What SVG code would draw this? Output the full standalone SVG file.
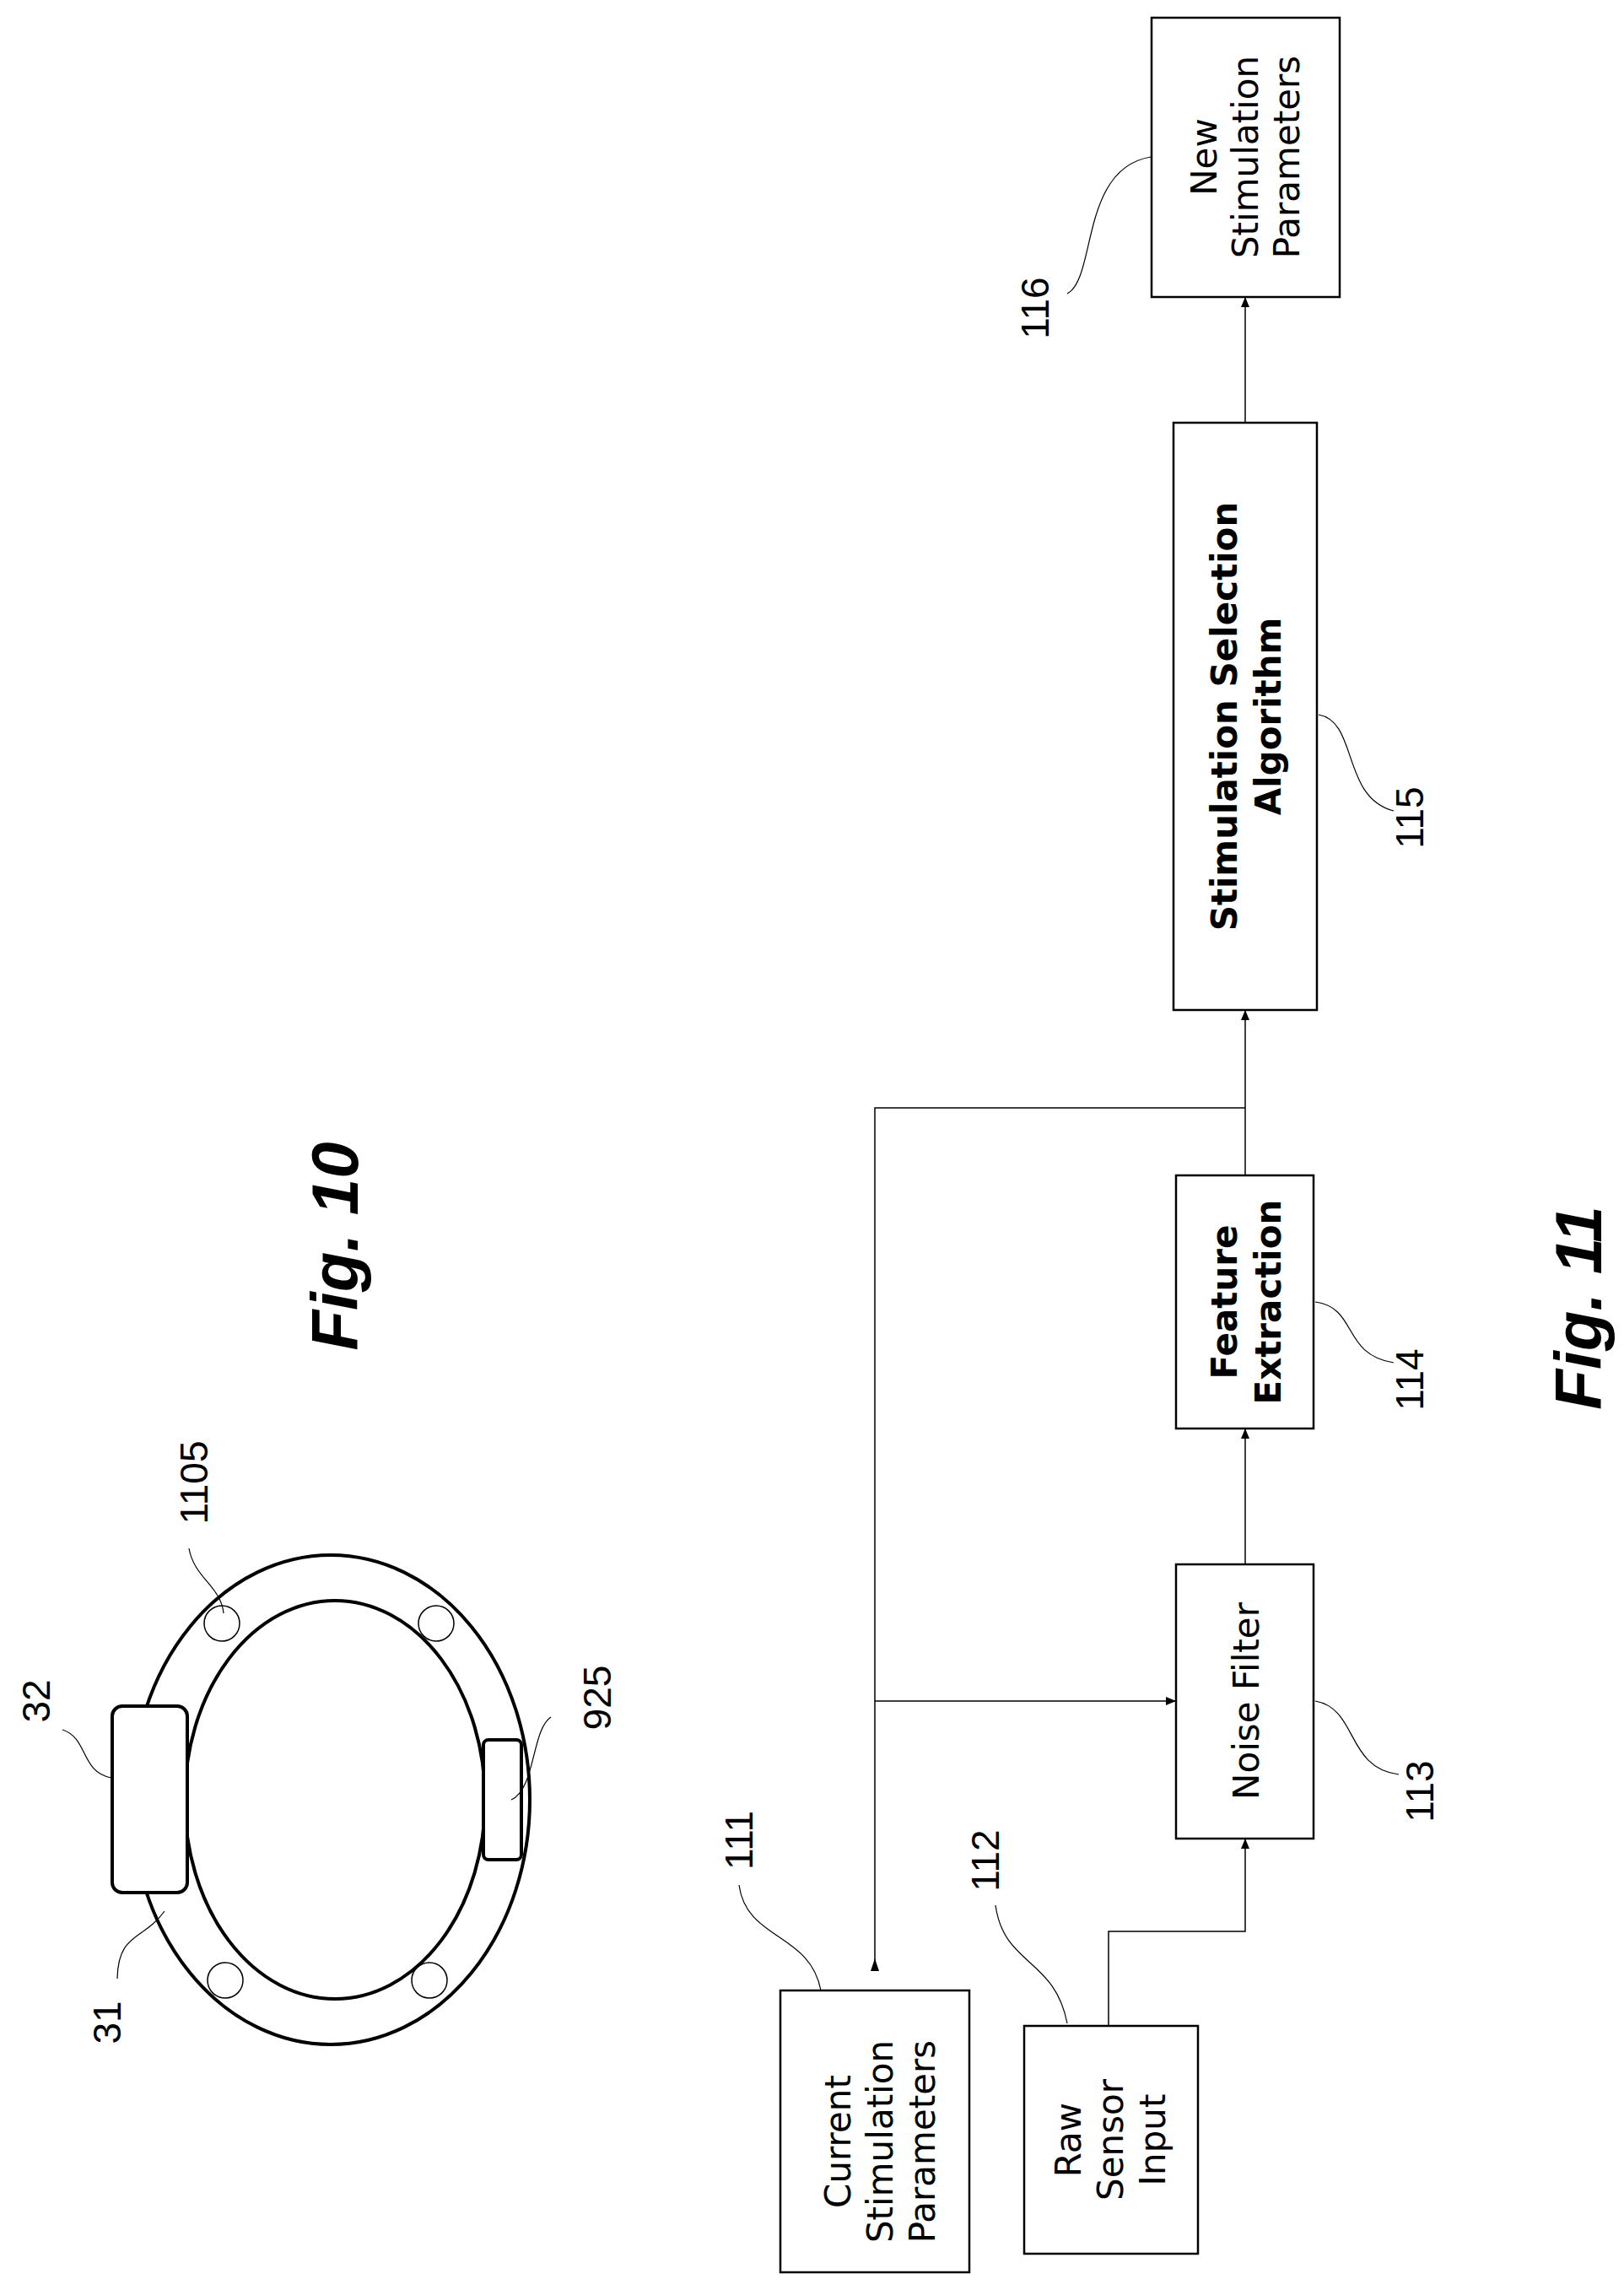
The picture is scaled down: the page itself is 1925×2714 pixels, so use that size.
<svg xmlns="http://www.w3.org/2000/svg" width="1925" height="2714" viewBox="0 0 1925 2714">
<style>
.box{fill:#fff;stroke:#000;stroke-width:2.5}
.dev{fill:#fff;stroke:#000;stroke-width:4}
.ln{fill:none;stroke:#000;stroke-width:1.5}
.ld{fill:none;stroke:#000;stroke-width:1.2}
.t{font-family:"DejaVu Sans",sans-serif;font-size:42px;text-anchor:middle}
.b{font-weight:bold}
.n{font-family:"Liberation Sans",Arial,sans-serif;font-size:46px;text-anchor:middle}
.fig{font-family:"Liberation Sans",Arial,sans-serif;font-size:78px;font-weight:bold;font-style:italic;text-anchor:middle}
</style>
<defs>
<marker id="ah" markerWidth="12" markerHeight="10" refX="12" refY="5" orient="auto" markerUnits="userSpaceOnUse"><path d="M0,0 L12,5 L0,10 Z" fill="#000"/></marker>
</defs>
<rect width="1925" height="2714" fill="#fff"/>

<g id="fig10">
<ellipse class="dev" cx="392" cy="2133" rx="236" ry="290"/>
<ellipse class="dev" cx="397" cy="2133" rx="178" ry="236"/>
<circle class="ln" cx="263" cy="1924" r="21"/>
<circle class="ln" cx="517" cy="1924" r="21"/>
<circle class="ln" cx="267" cy="2347" r="21"/>
<circle class="ln" cx="509" cy="2347" r="21"/>
<rect id="n32" class="dev" x="133" y="2022" width="89" height="221" rx="12"/>
<rect id="n925" class="dev" x="573" y="2062" width="45" height="142" rx="6"/>
<path class="ld" d="M74,2050 C105,2060 95,2100 132,2107"/>
<path class="ld" d="M139,2345 C140,2290 170,2300 195,2265"/>
<path class="ld" d="M653,2035 C630,2050 635,2120 606,2133"/>
<path class="ld" d="M224,1835 C230,1870 262,1880 265,1912"/>
<text class="n" transform="translate(59,2016) rotate(-90)">32</text>
<text class="n" transform="translate(143,2397) rotate(-90)">31</text>
<text class="n" transform="translate(724,2012) rotate(-90)">925</text>
<text class="n" transform="translate(246,1757) rotate(-90)">1105</text>
<text class="fig" transform="translate(424,1477) rotate(-90)">Fig. 10</text>
</g>

<g id="connectors">
<path class="ln" d="M1476,501 V352" marker-end="url(#ah)"/>
<path class="ln" d="M1476,1393 V1197" marker-end="url(#ah)"/>
<path class="ln" d="M1476,1854 V1693" marker-end="url(#ah)"/>
<path class="ln" d="M1037,2335 V1313 H1476"/>
<path d="M1037,2321 L1032,2336 L1042,2336 Z" fill="#000"/>
<path class="ln" d="M1037,2016 H1394" marker-end="url(#ah)"/>
<path class="ln" d="M1314,2401 V2289 H1476 V2179" marker-end="url(#ah)"/>
</g>

<g id="n116">
<rect class="box" x="1365" y="21" width="223" height="331"/>
<text class="t" transform="translate(1476,186) rotate(-90)"><tspan x="0" y="-34">New</tspan><tspan x="0" y="15">Stimulation</tspan><tspan x="0" y="64">Parameters</tspan></text>
<path class="ld" d="M1265,348 C1300,330 1280,200 1364,186"/>
<text class="n" transform="translate(1243,365) rotate(-90)">116</text>
</g>
<g id="n115">
<rect class="box" x="1391" y="501" width="170" height="696"/>
<text class="t b" transform="translate(1476,849) rotate(-90)"><tspan x="0" y="-10">Stimulation Selection</tspan><tspan x="0" y="42">Algorithm</tspan></text>
<path class="ld" d="M1563,847 C1610,855 1590,945 1652,961"/>
<text class="n" transform="translate(1687,969) rotate(-90)">115</text>
</g>
<g id="n114">
<rect class="box" x="1394" y="1393" width="163" height="300"/>
<text class="t b" transform="translate(1476,1543) rotate(-90)"><tspan x="0" y="-10">Feature</tspan><tspan x="0" y="42">Extraction</tspan></text>
<path class="ld" d="M1559,1543 C1610,1550 1590,1605 1652,1615"/>
<text class="n" transform="translate(1687,1635) rotate(-90)">114</text>
</g>
<g id="n113">
<rect class="box" x="1394" y="1854" width="163" height="325"/>
<text class="t" transform="translate(1492,2016) rotate(-90)">Noise Filter</text>
<path class="ld" d="M1559,2016 C1610,2025 1595,2095 1658,2103"/>
<text class="n" transform="translate(1699,2123) rotate(-90)">113</text>
</g>
<g id="n111">
<rect class="box" x="925" y="2359" width="224" height="334"/>
<text class="t" transform="translate(1050,2538) rotate(-90)"><tspan x="0" y="-42">Current</tspan><tspan x="0" y="8">Stimulation</tspan><tspan x="0" y="58">Parameters</tspan></text>
<path class="ld" d="M876,2234 C885,2300 960,2290 973,2359"/>
<text class="n" transform="translate(892,2181) rotate(-90)">111</text>
</g>
<g id="n112">
<rect class="box" x="1214" y="2401" width="206" height="270"/>
<text class="t" transform="translate(1317,2536) rotate(-90)"><tspan x="0" y="-36">Raw</tspan><tspan x="0" y="14">Sensor</tspan><tspan x="0" y="64">Input</tspan></text>
<path class="ld" d="M1180,2258 C1190,2330 1250,2320 1265,2398"/>
<text class="n" transform="translate(1184,2205) rotate(-90)">112</text>
</g>
<text class="fig" transform="translate(1898,1550) rotate(-90)">Fig. 11</text>
</svg>
